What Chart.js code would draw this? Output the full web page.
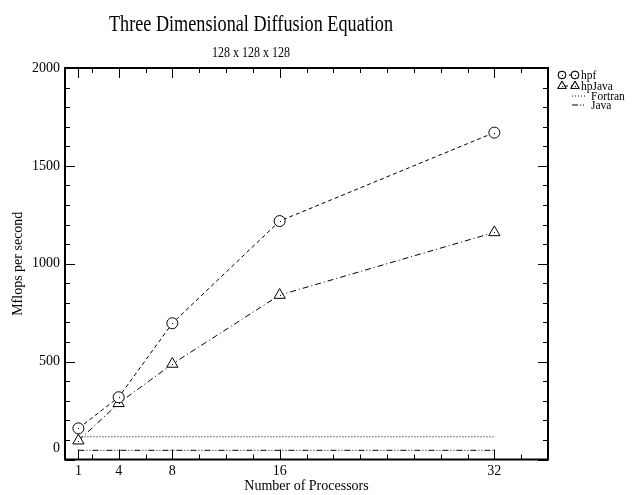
<!DOCTYPE html>
<html>
<head>
<meta charset="utf-8">
<script src="https://cdn.jsdelivr.net/npm/chart.js@4.4.0/dist/chart.umd.min.js"></script>
<style>
  html, body { margin: 0; padding: 0; background: #fff; }
</style>
</head>
<body>
<canvas id="diffusion-chart" width="641" height="495"></canvas>
<script>
// data
const processors = [1, 4, 8, 16, 32];
const hpfMflops = [159, 318, 696, 1218, 1670];
const hpJavaMflops = [96, 287, 488, 840, 1160];
const baselineProcs = [1, 32];
const fortranMflops = [116, 116];
const javaMflops = [47, 47];
const yTickValues = [0, 500, 1000, 1500, 2000];

const FONT = "'Liberation Serif', 'Times New Roman', serif";
const pts = (xs, ys) => xs.map((x, i) => ({ x: x, y: ys[i] }));

// text in the original is a bit stretched vertically
function tallText(ctx, text, x, y, size, sy, align) {
  ctx.save();
  ctx.font = size + 'px ' + FONT;
  ctx.textAlign = align || 'center';
  ctx.textBaseline = 'alphabetic';
  ctx.translate(x, y);
  ctx.scale(1, sy);
  ctx.fillText(text, 0, 0);
  ctx.restore();
}

// draws the boxed frame with inward ticks on all 4 sides, titles, legend
const framePlugin = {
  id: 'frame',
  beforeDatasetsDraw(chart) {
    const { ctx, chartArea: a, scales: { x, y } } = chart;
    ctx.save();
    ctx.strokeStyle = '#000';
    ctx.lineWidth = 1;
    ctx.beginPath();
    // minor x ticks every 2
    for (let v = 0; v <= 36; v += 2) {
      const px = Math.round(x.getPixelForValue(v)) + 0.5;
      ctx.moveTo(px, a.bottom); ctx.lineTo(px, a.bottom - 5);
      ctx.moveTo(px, a.top); ctx.lineTo(px, a.top + 5);
    }
    processors.forEach(v => {
      const px = Math.round(x.getPixelForValue(v)) + 0.5;
      ctx.moveTo(px, a.bottom); ctx.lineTo(px, a.bottom - 10);
      ctx.moveTo(px, a.top); ctx.lineTo(px, a.top + 10);
    });
    for (let v = 0; v <= 2000; v += 100) {
      const py = Math.round(y.getPixelForValue(v)) + 0.5;
      const len = v % 500 === 0 ? 10 : 5;
      ctx.moveTo(a.left, py); ctx.lineTo(a.left + len, py);
      ctx.moveTo(a.right, py); ctx.lineTo(a.right - len, py);
    }
    ctx.stroke();
    ctx.lineWidth = 2;
    ctx.strokeRect(a.left, a.top, a.right - a.left, a.bottom - a.top);
    ctx.restore();
  },
  afterDatasetsDraw(chart) {
    // small centre dot inside each marker
    const ctx = chart.ctx;
    ctx.save();
    ctx.fillStyle = '#000';
    [0, 1].forEach(i => {
      chart.getDatasetMeta(i).data.forEach(p => {
        ctx.fillRect(Math.round(p.x), Math.round(p.y), 1, 1);
      });
    });
    ctx.restore();
  },
  afterDraw(chart) {
    const { ctx, chartArea: a, scales: { y } } = chart;
    ctx.save();
    ctx.fillStyle = '#000';
    tallText(ctx, 'Three Dimensional Diffusion Equation', 251, 30.5, 18.2, 1.22);
    tallText(ctx, '128 x 128 x 128', 251, 56.5, 12, 1.15);

    // the zero label sits a bit above the axis in the original
    ctx.font = '14px ' + FONT;
    ctx.textAlign = 'right';
    ctx.textBaseline = 'middle';
    ctx.fillText('0', a.left - 5, y.getPixelForValue(0) - 11);

    // legend
    const lx = a.right + 14;
    const rows = [
      { label: 'hpf', ds: 0, ty: 75 },
      { label: 'hpJava', ds: 1, ty: 86 },
      { label: 'Fortran', ds: 2, ty: 96 },
      { label: 'Java', ds: 3, ty: 105 }
    ];
    rows.forEach(r => {
      const d = chart.data.datasets[r.ds];
      ctx.strokeStyle = '#000';
      ctx.fillStyle = '#000';
      ctx.lineWidth = 1;
      ctx.setLineDash(d.borderDash);
      ctx.beginPath();
      if (r.ds < 2) {
        ctx.moveTo(lx, r.ty); ctx.lineTo(lx + 13, r.ty);
        ctx.stroke();
        ctx.setLineDash([]);
        [lx, lx + 13].forEach(cx => {
          ctx.beginPath();
          Chart.helpers.drawPoint(ctx, { pointStyle: d.pointStyle, radius: r.ds === 0 ? 3.8 : 4.8, rotation: 0, borderWidth: 1 }, cx, r.ty);
          ctx.fillStyle = '#fff';
          ctx.fill();
          ctx.stroke();
          ctx.fillStyle = '#000';
          ctx.fillRect(Math.round(cx), Math.round(r.ty), 1, 1);
        });
        tallText(ctx, r.label, lx + 19, r.ty + 4, 11.5, 1.15, 'left');
      } else {
        ctx.moveTo(lx + 10, r.ty); ctx.lineTo(lx + 24, r.ty);
        ctx.stroke();
        ctx.setLineDash([]);
        tallText(ctx, r.label, lx + 29, r.ty + 4, 11.5, 1.15, 'left');
      }
    });
    ctx.restore();
  }
};

new Chart(document.getElementById('diffusion-chart'), {
  type: 'scatter',
  data: {
    datasets: [
      {
        label: 'hpf',
        data: pts(processors, hpfMflops),
        showLine: true,
        borderColor: '#000',
        borderWidth: 1,
        borderDash: [4, 3],
        pointStyle: 'circle',
        pointRadius: 5.5,
        pointBackgroundColor: '#fff',
        pointBorderColor: '#000',
        pointBorderWidth: 1
      },
      {
        label: 'hpJava',
        data: pts(processors, hpJavaMflops),
        showLine: true,
        borderColor: '#000',
        borderWidth: 1,
        borderDash: [6, 3, 1, 3],
        pointStyle: 'triangle',
        pointRadius: 6.5,
        pointBackgroundColor: '#fff',
        pointBorderColor: '#000',
        pointBorderWidth: 1
      },
      {
        label: 'Fortran',
        data: pts(baselineProcs, fortranMflops),
        showLine: true,
        borderColor: '#000',
        borderWidth: 1,
        borderDash: [1, 2],
        pointRadius: 0
      },
      {
        label: 'Java',
        data: pts(baselineProcs, javaMflops),
        showLine: true,
        borderColor: '#000',
        borderWidth: 1,
        borderDash: [6, 2, 1, 2, 1, 2],
        pointRadius: 0
      }
    ]
  },
  options: {
    responsive: false,
    animation: false,
    layout: { padding: { left: 0, top: 68, right: 93, bottom: 0 } },
    plugins: {
      legend: { display: false },
      tooltip: { enabled: false }
    },
    scales: {
      x: {
        type: 'linear',
        min: 0,
        max: 36,
        grid: { display: false, drawTicks: false },
        border: { display: false },
        afterBuildTicks: s => { s.ticks = processors.map(v => ({ value: v })); },
        afterFit: s => { s.height = 35.5; },
        ticks: { color: '#000', padding: 3, maxRotation: 0, font: { family: FONT, size: 14 } },
        title: { display: true, text: 'Number of Processors', color: '#000', padding: 0, font: { family: FONT, size: 14 } }
      },
      y: {
        min: 0,
        max: 2000,
        grid: { display: false, drawTicks: false },
        border: { display: false },
        afterBuildTicks: s => { s.ticks = yTickValues.map(v => ({ value: v })); },
        afterFit: s => { s.width = 65; },
        ticks: {
          color: '#000',
          padding: 5,
          font: { family: FONT, size: 14 },
          callback: v => (v === 0 ? '' : v)
        },
        title: { display: true, text: 'Mflops per second', color: '#000', padding: { top: 10, bottom: 0 }, font: { family: FONT, size: 14 } }
      }
    }
  },
  plugins: [framePlugin]
});
</script>
</body>
</html>
